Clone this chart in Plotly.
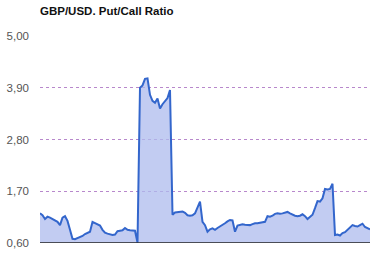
import plotly.graph_objects as go

title_text = "GBP/USD. Put/Call Ratio"
tick_vals = [0.6, 1.7, 2.8, 3.9, 5.0]
tick_text = ["0,60", "1,70", "2,80", "3,90", "5,00"]

ratio = [
    1.23, 1.19, 1.11, 1.16, 1.14, 1.11, 1.09, 1.05, 0.98, 1.14,
    1.17, 1.07, 0.88, 0.69, 0.68, 0.70, 0.73, 0.75, 0.79, 0.82,
    0.84, 1.05, 1.02, 1.00, 0.97, 0.88, 0.82, 0.80, 0.79, 0.77,
    0.78, 0.85, 0.86, 0.87, 0.92, 0.88, 0.87, 0.86, 0.86, 0.61,
    3.90, 3.95, 4.09, 4.10, 3.75, 3.62, 3.58, 3.67, 3.46, 3.55,
    3.62, 3.68, 3.85, 1.20, 1.25, 1.26, 1.27, 1.27, 1.24, 1.19,
    1.18, 1.19, 1.23, 1.36, 1.48, 1.05, 0.98, 0.84, 0.89, 0.91,
    0.88, 0.92, 0.95, 0.99, 1.02, 1.06, 1.09, 1.08, 0.84, 0.97,
    0.99, 1.00, 0.99, 0.99, 0.98, 1.00, 1.02, 1.02, 1.03, 1.04,
    1.05, 1.17, 1.16, 1.18, 1.22, 1.23, 1.22, 1.23, 1.24, 1.26,
    1.23, 1.20, 1.18, 1.17, 1.18, 1.21, 1.17, 1.11, 1.15, 1.20,
    1.34, 1.49, 1.48, 1.55, 1.75, 1.74, 1.75, 1.86, 0.77, 0.78,
    0.76, 0.81, 0.83, 0.88, 0.93, 0.98, 0.96, 0.95, 0.98, 1.01,
    0.94, 0.91, 0.89,
]
days = list(range(len(ratio)))

fig = go.Figure()
fig.add_trace(go.Scatter(
    x=days, y=ratio, mode="lines",
    line=dict(color="#3366cc", width=2),
    fill="tozeroy", fillcolor="rgba(174,187,238,0.75)",
    hoverinfo="skip",
))

fig.update_layout(
    width=379, height=253,
    margin=dict(l=40, r=9, t=36, b=10, autoexpand=False),
    paper_bgcolor="white", plot_bgcolor="white",
    showlegend=False,
    title=dict(text="<b>" + title_text + "</b>", x=40/379, xanchor="left",
               y=1 - 11/253, yanchor="middle", automargin=False,
               font=dict(family="Liberation Sans, Arial", size=11.5, color="#111")),
    xaxis=dict(range=[0, len(ratio) - 1], showgrid=False, zeroline=False,
               showticklabels=False, showline=False, ticks="", automargin=False),
    yaxis=dict(range=[0.6, 5.0], tickvals=tick_vals, ticktext=tick_text,
               showgrid=True, gridcolor="#b888cc", griddash="dot", gridwidth=1,
               zeroline=False, showline=False, ticks="", automargin=False,
               tickfont=dict(family="Liberation Sans, Arial", size=11.5, color="#555"),
               ticklabelstandoff=10),
)
fig.add_shape(type="line", xref="paper", yref="y", x0=0, x1=1, y0=0.6, y1=0.6,
              line=dict(color="#222", width=1.5))

fig.write_html("out.html")
